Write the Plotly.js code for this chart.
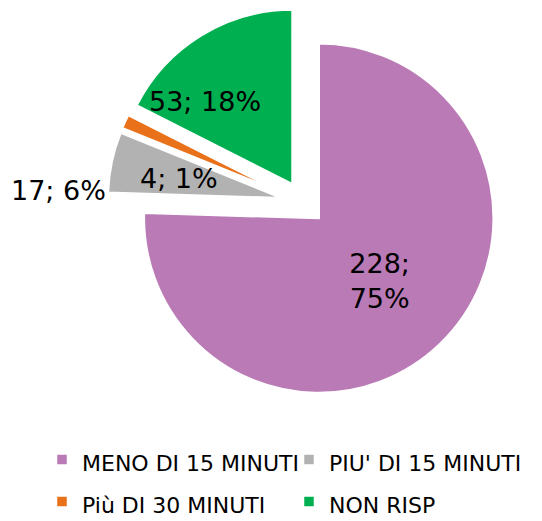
<!DOCTYPE html>
<html>
<head>
<meta charset="utf-8">
<script src="https://cdn.plot.ly/plotly-3.0.1.min.js"></script>
<style>html,body{margin:0;padding:0;background:#fff}#chart{width:542px;height:521px}</style>
</head>
<body>
<div id="chart"></div>
<script>
const labels = ["MENO DI 15 MINUTI", "PIU' DI 15 MINUTI", "Più DI 30 MINUTI", "NON RISP"];
const values = [228, 17, 4, 53];
const colors = ["#BA7AB5", "#B2B2B2", "#E8711A", "#00B050"];

const total = values.reduce((a, b) => a + b, 0);
const pct = values.map(v => Math.round(100 * v / total));
const labelText = values.map((v, i) => v + "; " + pct[i] + "%");

const FONT = "DejaVu Sans";
const LABEL_SIZE = 27;

const trace = {
  type: "pie",
  labels: labels.map(l => '<span style="font-size:22px">' + l + '</span>'),
  values: values,
  sort: false,
  direction: "clockwise",
  rotation: 0,
  pull: [0.123, 0.123, 0.123, 0.123],
  marker: {colors: colors, line: {width: 2.5, color: "#fff"}},
  texttemplate: ["%{value};<br>%{percent:.0%}", "", "", ""],
  textposition: ["inside", "none", "none", "none"],
  insidetextorientation: "horizontal",
  textfont: {family: FONT, size: LABEL_SIZE, color: "#000"},
  hoverinfo: "value+percent",
  domain: {x: [0.198, 0.923], y: [0.234, 0.988]},
  automargin: false
};

function lab(i, x, y, xanchor) {
  return {
    xref: "paper", yref: "paper",
    x: x, y: y, xanchor: xanchor, yanchor: "middle",
    text: labelText[i],
    showarrow: false,
    font: {family: FONT, size: LABEL_SIZE, color: "#000"}
  };
}

const layout = {
  width: 542,
  height: 521,
  margin: {l: 0, r: 0, t: 0, b: 0, autoexpand: false},
  paper_bgcolor: "#fff",
  showlegend: true,
  legend: {
    orientation: "h",
    x: 0.0775, xanchor: "left",
    y: 0.168, yanchor: "top",
    entrywidth: 202, entrywidthmode: "pixels",
    font: {family: FONT, size: 30, color: "#000"},
    traceorder: "normal"
  },
  annotations: [
    lab(1, 0.199, 0.635, "right"),
    lab(2, 0.3295, 0.657, "center"),
    lab(3, 0.378, 0.806, "center")
  ]
};

Plotly.newPlot("chart", [trace], layout, {displayModeBar: false, staticPlot: true});
</script>
</body>
</html>
